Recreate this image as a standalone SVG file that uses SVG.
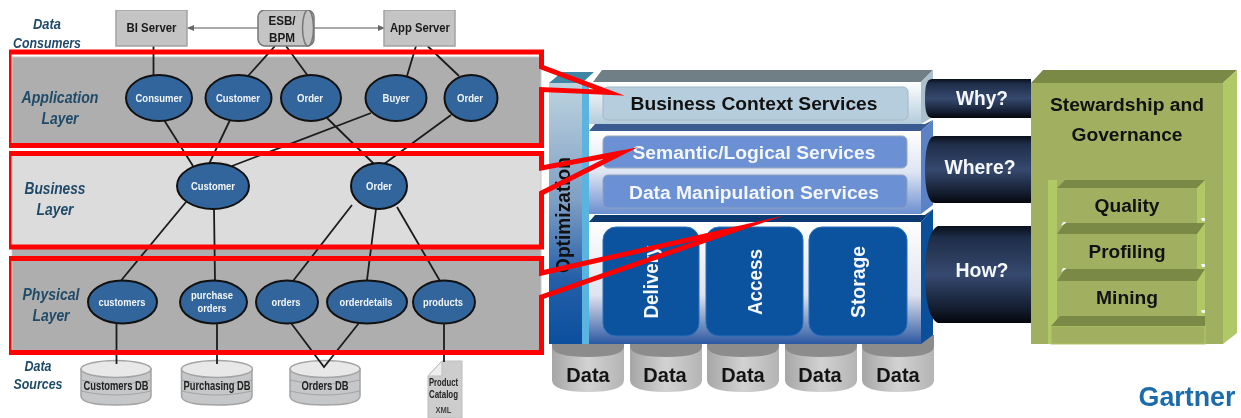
<svg xmlns="http://www.w3.org/2000/svg" width="1241" height="418" viewBox="0 0 1241 418">
<style>
text{font-family:"Liberation Sans",Arial,sans-serif;text-anchor:middle}
.lab{font-weight:bold;font-style:italic;font-size:14px;fill:#1f4a68}
.srv{fill:#c4c4c4;stroke:#a2a2a2;stroke-width:1.5}
.st{font-weight:bold;font-size:12px;fill:#1a1a1a}
.el{fill:#32659b;stroke:#111;stroke-width:2}
.et{font-weight:bold;font-size:10px;fill:#f2f6fa}
.c{fill:none;stroke:#1c1c1c;stroke-width:1.8}
.db{fill:#c6c7c9;stroke:#a4a4a4;stroke-width:1.5}
.dbt{fill:#e8e8e8;stroke:#a4a4a4;stroke-width:1.5}
.dt{font-size:12px;font-weight:bold;fill:#222}
.red{fill:none;stroke:#f00;stroke-width:5;stroke-linejoin:miter;stroke-miterlimit:60}
.w{font-weight:bold;font-size:20px;fill:#f4f7fb}
.k{font-weight:bold;font-size:18px;fill:#111}
.g{fill:#a0b060}.gd{fill:#7a8a46}.gl{fill:#b1c866}
.tile{fill:#0b529f;stroke:#2a6fb8;stroke-width:1}
.datat{font-weight:bold;font-size:20px;fill:#141414}
.spk{fill:#f4f4f4}
</style>
<defs>
<filter id="soft" x="0" y="0" width="100%" height="100%" color-interpolation-filters="sRGB"><feGaussianBlur stdDeviation="0.45"/></filter>
<linearGradient id="pipe" x1="0" y1="0" x2="0" y2="1"><stop offset="0" stop-color="#0a0f1a"/><stop offset=".12" stop-color="#1e2d49"/><stop offset=".5" stop-color="#36496f"/><stop offset=".85" stop-color="#141d30"/><stop offset="1" stop-color="#05070c"/></linearGradient>
<linearGradient id="opt" x1="0" y1="0" x2="0" y2="1"><stop offset="0" stop-color="#bdd3df"/><stop offset=".45" stop-color="#7f9fc4"/><stop offset=".75" stop-color="#255fa8"/><stop offset="1" stop-color="#0b4f9e"/></linearGradient>
<linearGradient id="f1" x1="0" y1="0" x2="0" y2="1"><stop offset="0" stop-color="#fff"/><stop offset="1" stop-color="#b2cbdb"/></linearGradient>
<linearGradient id="f2" x1="0" y1="0" x2="0" y2="1"><stop offset="0" stop-color="#fff"/><stop offset=".5" stop-color="#dde4f3"/><stop offset="1" stop-color="#6b8fd0"/></linearGradient>
<linearGradient id="f3" x1="0" y1="0" x2="0" y2="1"><stop offset="0" stop-color="#fff"/><stop offset=".6" stop-color="#dfe3ee"/><stop offset="1" stop-color="#2c58a2"/></linearGradient>
<linearGradient id="cyl" x1="0" y1="0" x2="1" y2="0"><stop offset="0" stop-color="#a6a6a6"/><stop offset=".5" stop-color="#d2d2d2"/><stop offset="1" stop-color="#b4b4b4"/></linearGradient>
<marker id="ah" markerWidth="7" markerHeight="6" refX="6" refY="3" orient="auto"><path d="M0,0 L7,3 L0,6 Z" fill="#666"/></marker>
</defs>
<rect width="1241" height="418" fill="#fff"/>
<g filter="url(#soft)">
<g id="panels">
<rect x="12" y="57" width="529" height="88" fill="#aeaeae" stroke="#c8c8c8"/>
<rect x="12" y="155" width="529" height="92" fill="#dcdcdc" stroke="#c8c8c8"/>
<rect x="12" y="247" width="529" height="105" fill="#aeaeae" stroke="#c8c8c8"/>
</g>
<g id="labels">
<text class="lab" x="47" y="29" textLength="28" lengthAdjust="spacingAndGlyphs">Data</text>
<text class="lab" x="47" y="48" textLength="68" lengthAdjust="spacingAndGlyphs">Consumers</text>
<text class="lab" style="font-size:16px" x="60" y="103" textLength="77" lengthAdjust="spacingAndGlyphs">Application</text>
<text class="lab" style="font-size:16px" x="60" y="124" textLength="37" lengthAdjust="spacingAndGlyphs">Layer</text>
<text class="lab" style="font-size:16px" x="55" y="194" textLength="61" lengthAdjust="spacingAndGlyphs">Business</text>
<text class="lab" style="font-size:16px" x="55" y="215" textLength="37" lengthAdjust="spacingAndGlyphs">Layer</text>
<text class="lab" style="font-size:16px" x="51" y="300" textLength="57" lengthAdjust="spacingAndGlyphs">Physical</text>
<text class="lab" style="font-size:16px" x="51" y="321" textLength="37" lengthAdjust="spacingAndGlyphs">Layer</text>
<text class="lab" x="38" y="371" textLength="27" lengthAdjust="spacingAndGlyphs">Data</text>
<text class="lab" x="38" y="389" textLength="49" lengthAdjust="spacingAndGlyphs">Sources</text>
</g>

<g id="connectors">
<path class="c" d="M153.500,46V75M275,46L248,76M286,46L308,76M416,46L407,76M427.500,46L459,76"/>
<path class="c" d="M164,120L193,166M230,120L209,164M327,118L374,164M371,113L232,166M451,115L384,164"/>
<path class="c" d="M186,202L121.500,280M214,209L215,280M352,205L293,281M376,209L367,280M397,207L440,281"/>
<path class="c" style="stroke:#555;stroke-width:1" marker-end="url(#ah)" d="M258,28H188"/>
<path class="c" style="stroke:#555;stroke-width:1" marker-end="url(#ah)" d="M314,28H384"/>
</g>

<g id="bi-server"><rect class="srv" x="116" y="10" width="71" height="36"/><text class="st" x="151.500" y="32" textLength="50" lengthAdjust="spacingAndGlyphs">BI Server</text></g>
<g id="esb-bpm"><rect class="srv" x="258" y="10" width="56" height="36" rx="7" style="stroke:#777"/><ellipse cx="308" cy="28" rx="5.500" ry="18" fill="#c4c4c4" stroke="#777" stroke-width="1.5"/><text class="st" x="282" y="25" textLength="27" lengthAdjust="spacingAndGlyphs">ESB/</text><text class="st" x="282" y="42" textLength="26" lengthAdjust="spacingAndGlyphs">BPM</text></g>
<g id="app-server"><rect class="srv" x="384" y="10" width="71" height="36"/><text class="st" x="420" y="32" textLength="60" lengthAdjust="spacingAndGlyphs">App Server</text></g>

<g id="app-consumer"><ellipse class="el" cx="159" cy="98" rx="33" ry="23"/><text class="et" x="159" y="102" textLength="47" lengthAdjust="spacingAndGlyphs">Consumer</text></g>
<g id="app-customer"><ellipse class="el" cx="238.500" cy="98" rx="33" ry="23"/><text class="et" x="238" y="102" textLength="44" lengthAdjust="spacingAndGlyphs">Customer</text></g>
<g id="app-order"><ellipse class="el" cx="311" cy="98" rx="30" ry="23"/><text class="et" x="310" y="102" textLength="26" lengthAdjust="spacingAndGlyphs">Order</text></g>
<g id="app-buyer"><ellipse class="el" cx="396" cy="98" rx="30.500" ry="23"/><text class="et" x="396" y="102" textLength="27" lengthAdjust="spacingAndGlyphs">Buyer</text></g>
<g id="app-order2"><ellipse class="el" cx="471" cy="98" rx="26.500" ry="23"/><text class="et" x="470" y="102" textLength="26" lengthAdjust="spacingAndGlyphs">Order</text></g>
<g id="bus-customer"><ellipse class="el" cx="213" cy="186" rx="36" ry="23"/><text class="et" x="213" y="190" textLength="44" lengthAdjust="spacingAndGlyphs">Customer</text></g>
<g id="bus-order"><ellipse class="el" cx="379" cy="186" rx="28" ry="23"/><text class="et" x="379" y="190" textLength="26" lengthAdjust="spacingAndGlyphs">Order</text></g>
<g id="phy-customers"><ellipse class="el" cx="122.500" cy="302" rx="34.500" ry="21.500"/><text class="et" x="122" y="306" textLength="47" lengthAdjust="spacingAndGlyphs">customers</text></g>
<g id="phy-purchase"><ellipse class="el" cx="213.500" cy="302" rx="33.500" ry="21.500"/><text class="et" x="212" y="299" textLength="42" lengthAdjust="spacingAndGlyphs">purchase</text><text class="et" x="212" y="312" textLength="29" lengthAdjust="spacingAndGlyphs">orders</text></g>
<g id="phy-orders"><ellipse class="el" cx="287" cy="302" rx="31" ry="21.500"/><text class="et" x="286" y="306" textLength="29" lengthAdjust="spacingAndGlyphs">orders</text></g>
<g id="phy-orderdetails"><ellipse class="el" cx="367" cy="302" rx="40" ry="21.500"/><text class="et" x="366" y="306" textLength="53" lengthAdjust="spacingAndGlyphs">orderdetails</text></g>
<g id="phy-products"><ellipse class="el" cx="444" cy="302" rx="31" ry="21.500"/><text class="et" x="443" y="306" textLength="40" lengthAdjust="spacingAndGlyphs">products</text></g>

<g id="db-customers"><path class="db" d="M81,369V396Q81,405 116,405T151,396V369Z"/><path class="c" style="stroke:#a4a4a4;stroke-width:1.200" d="M81,380Q116,388 151,380M81,391Q116,399 151,391"/><ellipse class="dbt" cx="116" cy="369" rx="35" ry="8.500"/><text class="dt" x="116" y="390" textLength="65" lengthAdjust="spacingAndGlyphs">Customers DB</text></g>
<g id="db-purchasing"><path class="db" d="M181.500,369V396Q181.500,405 217,405T252,396V369Z"/><path class="c" style="stroke:#a4a4a4;stroke-width:1.200" d="M181.500,380Q217,388 252,380M181.500,391Q217,399 252,391"/><ellipse class="dbt" cx="217" cy="369" rx="35.500" ry="8.500"/><text class="dt" x="217" y="390" textLength="67" lengthAdjust="spacingAndGlyphs">Purchasing DB</text></g>
<g id="db-orders"><path class="db" d="M290,369V396Q290,405 325,405T360,396V369Z"/><path class="c" style="stroke:#a4a4a4;stroke-width:1.200" d="M290,380Q325,388 360,380M290,391Q325,399 360,391"/><ellipse class="dbt" cx="325" cy="369" rx="35" ry="8.500"/><text class="dt" x="325" y="390" textLength="47" lengthAdjust="spacingAndGlyphs">Orders DB</text></g>
<g id="doc-catalog"><path d="M442,361H462V418H428V376Z" fill="#cdcdcd" stroke="#bdbdbd"/><path d="M442,361V376H428Z" fill="#eee" stroke="#bdbdbd"/><text class="dt" style="font-size:10px" x="443.500" y="386" textLength="29" lengthAdjust="spacingAndGlyphs">Product</text><text class="dt" style="font-size:10px" x="443.500" y="398" textLength="29" lengthAdjust="spacingAndGlyphs">Catalog</text><text class="dt" style="font-size:9px;fill:#444" x="443.500" y="413" textLength="16" lengthAdjust="spacingAndGlyphs">XML</text></g>
<g id="connectors-db">
<path class="c" d="M116.500,323V364M217,323V364M291,323L324,367L359,323M444,323V362"/>
</g>

<g id="data-stores">
<g id="data1"><path d="M552,345V380Q552,392 588,392T624,380V345Z" fill="url(#cyl)"/><path d="M552,344V346Q552,357 588,357T624,346V344Z" fill="#8c8c8c"/><text class="datat" x="588" y="382">Data</text></g>
<g id="data2"><path d="M630,345V380Q630,392 666,392T702,380V345Z" fill="url(#cyl)"/><path d="M630,344V346Q630,357 666,357T702,346V344Z" fill="#8c8c8c"/><text class="datat" x="665" y="382">Data</text></g>
<g id="data3"><path d="M707,345V380Q707,392 743,392T779,380V345Z" fill="url(#cyl)"/><path d="M707,344V346Q707,357 743,357T779,346V344Z" fill="#8c8c8c"/><text class="datat" x="743" y="382">Data</text></g>
<g id="data4"><path d="M785,345V380Q785,392 821,392T857,380V345Z" fill="url(#cyl)"/><path d="M785,344V346Q785,357 821,357T857,346V344Z" fill="#8c8c8c"/><text class="datat" x="820" y="382">Data</text></g>
<g id="data5"><path d="M862,335V380Q862,392 898,392T934,380V335Z" fill="url(#cyl)"/><path d="M862,344V346Q862,357 898,357T934,346V335H921V344Z" fill="#8c8c8c"/><text class="datat" x="898" y="382">Data</text></g>
</g>

<g id="optimization">
<path d="M549,83L562,72H594L582,83Z" fill="#3f86a5"/>
<rect x="549" y="83" width="33" height="261" fill="url(#opt)"/>
<rect x="582" y="83" width="7" height="261" fill="#5bb4e0"/>
<text transform="translate(570 215) rotate(-90)" style="font-size:20px;font-weight:bold;fill:#111" textLength="116" lengthAdjust="spacingAndGlyphs">Optimization</text>
</g>

<g id="business-context">
<path d="M593,82L602,70H933L921,82Z" fill="#6f7f85"/>
<path d="M921,82L933,70V117L921,124Z" fill="#a9bfcc"/>
<rect x="589" y="82" width="332" height="42" fill="url(#f1)"/>
<rect x="603" y="87" width="305" height="33" rx="5" fill="#b5cddc" stroke="#a4b8c4"/>
<text style="font-weight:bold;font-size:18px;fill:#111" x="754" y="110" textLength="247" lengthAdjust="spacingAndGlyphs">Business Context Services</text>
</g>
<g id="logical-block">
<path d="M589,131L595,124H925L933,120L921,131Z" fill="#3a5a92"/>
<path d="M921,131L933,120V205L921,214Z" fill="#5b82c4"/>
<rect x="589" y="131" width="332" height="83" fill="url(#f2)"/>
<rect x="603" y="136" width="304" height="32" rx="5" fill="#6b91d4" stroke="#9aa8c0"/>
<rect x="603" y="175" width="304" height="33" rx="5" fill="#6b91d4" stroke="#8fa0c0"/>
<text style="font-weight:bold;font-size:18px;fill:#f4f7fb" x="754" y="159" textLength="243" lengthAdjust="spacingAndGlyphs">Semantic/Logical Services</text>
<text style="font-weight:bold;font-size:18px;fill:#f4f7fb" x="754" y="199" textLength="250" lengthAdjust="spacingAndGlyphs">Data Manipulation Services</text>
</g>
<g id="access-block">
<path d="M589,222L595,215H925L933,209L921,222Z" fill="#0c3a70"/>
<path d="M921,222L933,209V335L921,344Z" fill="#0a4f9a"/>
<rect x="589" y="222" width="332" height="122" fill="url(#f3)"/>
<rect class="tile" x="603" y="227" width="96" height="109" rx="13"/>
<rect class="tile" x="706" y="227" width="97" height="109" rx="13"/>
<rect class="tile" x="809" y="227" width="98" height="109" rx="13"/>
<text class="w" transform="translate(658 282) rotate(-90)" textLength="73" lengthAdjust="spacingAndGlyphs">Delivery</text>
<text class="w" transform="translate(762 282) rotate(-90)" textLength="66" lengthAdjust="spacingAndGlyphs">Access</text>
<text class="w" transform="translate(865 282) rotate(-90)" textLength="72" lengthAdjust="spacingAndGlyphs">Storage</text>
</g>

<g id="pipes">
<g id="why"><path d="M1031,79H932C926,79 925,88 925,98.500S926,118 932,118H1031Z" fill="url(#pipe)"/><text class="w" x="982" y="105" textLength="52" lengthAdjust="spacingAndGlyphs">Why?</text></g>
<g id="where"><path d="M1031,136H935C927,136 925,155 925,169.500S927,203 935,203H1031Z" fill="url(#pipe)"/><text class="w" x="980" y="174" textLength="71" lengthAdjust="spacingAndGlyphs">Where?</text></g>
<g id="how"><path d="M1031,226H938C928,230 925,255 925,274.500S928,319 938,323H1031Z" fill="url(#pipe)"/><text class="w" x="982" y="277" textLength="53" lengthAdjust="spacingAndGlyphs">How?</text></g>
</g>

<g id="stewardship">
<path class="gd" d="M1031,83L1043,70H1237L1223,83Z"/>
<path class="gl" d="M1223,83L1237,70V333L1223,344Z"/>
<rect class="g" x="1031" y="83" width="192" height="261"/>
<rect class="gl" x="1048" y="180" width="9" height="164"/>
<rect class="gl" x="1197" y="180" width="8" height="136"/>
<rect class="g" x="1051" y="326" width="154" height="18" stroke="#b1c866" stroke-width="1"/>
<path class="gd" d="M1051,326L1060,316H1205V326Z"/>
<text class="k" x="1127" y="111" textLength="154" lengthAdjust="spacingAndGlyphs">Stewardship and</text>
<text class="k" x="1127" y="141" textLength="111" lengthAdjust="spacingAndGlyphs">Governance</text>
</g>
<g id="quality"><path class="gd" d="M1057,188L1065,180H1205L1197,188Z"/><rect class="g" x="1057" y="188" width="140" height="35"/><text class="k" x="1127" y="212" textLength="65" lengthAdjust="spacingAndGlyphs">Quality</text></g>
<g id="profiling"><path class="gd" d="M1057,234L1065,223H1205L1197,234Z"/><rect class="g" x="1057" y="234" width="140" height="35"/><text class="k" x="1127" y="258" textLength="77" lengthAdjust="spacingAndGlyphs">Profiling</text></g>
<g id="mining"><path class="gd" d="M1057,281L1065,269H1205L1197,281Z"/><rect class="g" x="1057" y="281" width="140" height="35"/><text class="k" x="1127" y="304" textLength="62" lengthAdjust="spacingAndGlyphs">Mining</text></g>
<g id="specks">
<path class="spk" d="M1061,226l5,-3v-1h-3ZM1061,272l5,-3v-1h-3ZM1201,218h4v3h-3ZM1201,264h4v3h-3ZM1201,310h4v3h-3Z"/>
</g>

<g id="gartner"><text style="font-weight:bold;font-size:27px;fill:#1c6cab" x="1187" y="406" textLength="97" lengthAdjust="spacingAndGlyphs">Gartner</text></g>

<g id="callouts">
<path class="red" d="M9,52H541.500V67L609,92.500L541.500,89.500V145.500H9Z"/>
<path class="red" d="M9,153.500H541.500V168L621,153L541.500,193V247H9Z"/>
<path class="red" d="M9,258.500H541.500V273L740,228L541.500,297V352.500H9Z"/>
</g>
</g>
</svg>
